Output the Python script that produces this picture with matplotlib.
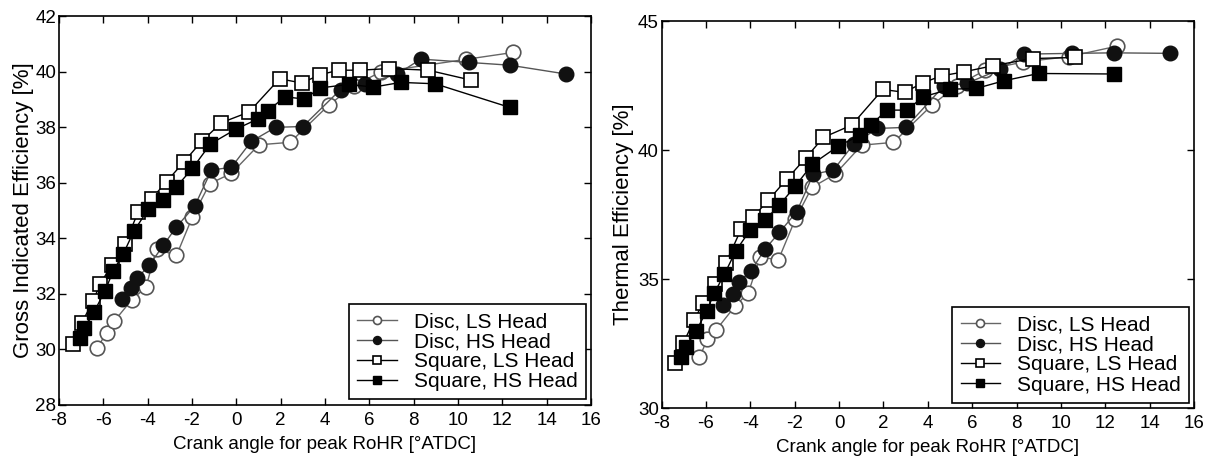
import matplotlib
matplotlib.use("Agg")
import matplotlib.pyplot as plt

plt.rcParams["font.family"] = ["Liberation Sans", "DejaVu Sans"]
plt.rcParams["axes.unicode_minus"] = False

labels = ["Disc, LS Head", "Disc, HS Head", "Square, LS Head", "Square, HS Head"]

# left panel: gross indicated efficiency [%]
gie_disc_ls_x = [-6.27, -5.85, -5.52, -4.72, -4.08, -3.6, -2.7, -1.98, -1.2, -0.22, 1.02, 2.43, 4.17, 5.3, 6.52, 10.35, 12.49]
gie_disc_ls_y = [30.06, 30.6, 31.0, 31.78, 32.23, 33.62, 33.38, 34.77, 35.97, 36.34, 37.37, 37.46, 38.8, 39.5, 40.0, 40.45, 40.7]
gie_disc_hs_x = [-5.17, -4.77, -4.47, -3.93, -3.3, -2.7, -1.88, -1.12, -0.22, 0.67, 1.77, 3.0, 4.7, 5.8, 7.27, 8.32, 10.5, 12.34, 14.89]
gie_disc_hs_y = [31.81, 32.21, 32.57, 33.02, 33.74, 34.41, 35.16, 36.46, 36.56, 37.49, 38.0, 38.03, 39.36, 39.57, 39.92, 40.46, 40.34, 40.24, 39.92]
gie_sq_ls_x = [-7.35, -6.97, -6.45, -6.15, -5.62, -5.02, -4.43, -3.82, -3.15, -2.36, -1.57, -0.67, 0.57, 1.95, 2.95, 3.79, 4.62, 5.58, 6.9, 8.66, 10.6]
gie_sq_ls_y = [30.18, 30.96, 31.75, 32.36, 33.02, 33.8, 34.95, 35.43, 36.04, 36.76, 37.49, 38.17, 38.55, 39.75, 39.6, 39.9, 40.06, 40.06, 40.12, 40.06, 39.7]
gie_sq_hs_x = [-7.05, -6.87, -6.41, -5.92, -5.55, -5.1, -4.62, -3.98, -3.33, -2.7, -1.98, -1.17, -0.03, 0.97, 1.42, 2.2, 3.07, 3.79, 5.07, 6.18, 7.42, 8.97, 12.33]
gie_sq_hs_y = [30.42, 30.78, 31.36, 32.11, 32.83, 33.44, 34.26, 35.04, 35.38, 35.86, 36.52, 37.4, 37.93, 38.3, 38.6, 39.1, 39.02, 39.42, 39.55, 39.45, 39.62, 39.57, 38.72]

# right panel: thermal efficiency [%]
te_disc_ls_x = [-6.3, -5.94, -5.55, -4.69, -4.09, -3.56, -2.74, -1.98, -1.23, -0.18, 1.02, 2.45, 4.18, 5.3, 6.59, 8.31, 10.34, 12.53]
te_disc_ls_y = [31.96, 32.66, 33.02, 33.95, 34.47, 35.86, 35.74, 37.31, 38.55, 39.07, 40.19, 40.3, 41.74, 42.5, 43.1, 43.42, 43.62, 44.03]
te_disc_hs_x = [-5.22, -4.79, -4.5, -3.97, -3.34, -2.69, -1.91, -1.16, -0.26, 0.65, 1.73, 3.01, 4.71, 5.76, 7.26, 8.34, 10.5, 12.37, 14.9]
te_disc_hs_y = [33.99, 34.42, 34.9, 35.32, 36.16, 36.81, 37.61, 39.07, 39.22, 40.23, 40.84, 40.88, 42.48, 42.59, 43.13, 43.72, 43.75, 43.77, 43.75]
te_sq_ls_x = [-7.4, -7.02, -6.53, -6.15, -5.59, -5.1, -4.42, -3.87, -3.19, -2.36, -1.5, -0.71, 0.57, 1.97, 2.95, 3.8, 4.63, 5.61, 6.93, 8.72, 10.65]
te_sq_ls_y = [31.76, 32.53, 33.41, 34.06, 34.79, 35.63, 36.93, 37.41, 38.06, 38.87, 39.7, 40.49, 40.97, 42.35, 42.24, 42.62, 42.88, 43.03, 43.27, 43.55, 43.59]
te_sq_hs_x = [-7.14, -6.9, -6.45, -5.97, -5.62, -5.17, -4.65, -4.01, -3.34, -2.69, -1.98, -1.2, -0.03, 0.95, 1.43, 2.15, 3.05, 3.8, 5.0, 6.18, 7.44, 8.99, 12.37]
te_sq_hs_y = [31.99, 32.38, 32.98, 33.76, 34.47, 35.19, 36.1, 36.9, 37.29, 37.87, 38.6, 39.46, 40.16, 40.58, 40.97, 41.55, 41.55, 42.07, 42.36, 42.39, 42.69, 42.97, 42.95]

styles = [
    dict(marker="o", mfc="white", mec="#555555", color="#666666", ms=10.5, mew=1.2),
    dict(marker="o", mfc="#111111", mec="#111111", color="#555555", ms=10.5, mew=1.0),
    dict(marker="s", mfc="white", mec="black", color="black", ms=9.5, mew=1.2),
    dict(marker="s", mfc="black", mec="black", color="black", ms=10.5, mew=1.0),
]

fig = plt.figure(figsize=(12.14, 4.59), dpi=100)
ax1 = fig.add_axes([0.0486, 0.1183, 0.4382, 0.846])
ax2 = fig.add_axes([0.545, 0.111, 0.4386, 0.843])

left_series = [(gie_disc_ls_x, gie_disc_ls_y), (gie_disc_hs_x, gie_disc_hs_y),
               (gie_sq_ls_x, gie_sq_ls_y), (gie_sq_hs_x, gie_sq_hs_y)]
right_series = [(te_disc_ls_x, te_disc_ls_y), (te_disc_hs_x, te_disc_hs_y),
                (te_sq_ls_x, te_sq_ls_y), (te_sq_hs_x, te_sq_hs_y)]

for ax, series in [(ax1, left_series), (ax2, right_series)]:
    for (x, y), st, lab in zip(series, styles, labels):
        ax.plot(x, y, lw=1.0, label=lab, **st)
    ax.set_xlim(-8, 16)
    ax.set_xticks(range(-8, 17, 2))
    ax.tick_params(direction="in", top=True, right=True, labelsize=13.5, length=5, width=1)
    ax.tick_params(axis="x", pad=5)
    ax.tick_params(axis="y", pad=2)
    ax.set_xlabel("Crank angle for peak RoHR [°ATDC]", fontsize=13.5, labelpad=5)
    for sp in ax.spines.values():
        sp.set_linewidth(1.2)
    leg = ax.legend(loc="lower right", fontsize=15, markerscale=0.55, handlelength=1.9,
                    frameon=True, fancybox=False, edgecolor="black", framealpha=1,
                    borderpad=0.4, labelspacing=0.05, borderaxespad=0.25, handletextpad=0.8)
    leg.get_frame().set_linewidth(1.2)

ax1.set_ylim(28, 42)
ax1.set_yticks(range(28, 43, 2))
ax1.set_ylabel("Gross Indicated Efficiency [%]", fontsize=16, labelpad=1)

ax2.set_ylim(30, 45)
ax2.set_yticks([30, 35, 40, 45])
ax2.set_ylabel("Thermal Efficiency [%]", fontsize=16, labelpad=3)

fig.savefig("out.png", dpi=100)
